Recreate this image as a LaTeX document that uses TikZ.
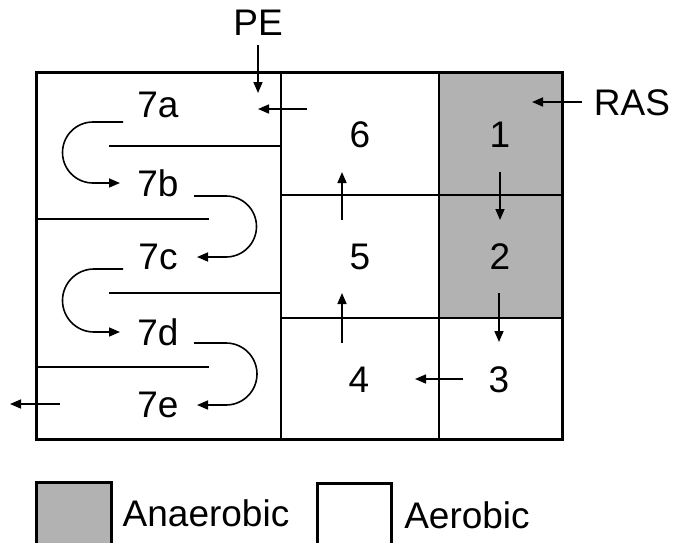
\documentclass[tikz,border=0pt]{standalone}
\usepackage{fontspec}
\setmainfont{Liberation Sans}
\usetikzlibrary{arrows.meta}
\begin{document}
\begin{tikzpicture}[x=1pt,y=-1pt,
  lbl/.style={font=\fontsize{37}{42}\selectfont, inner sep=0pt, anchor=center},
  wall/.style={line width=2pt},
  outer/.style={line width=3pt},
  flow/.style={line width=1.6pt, -{Triangle[length=11pt,width=9pt]}},
  anaer/.style={fill=black!30}]
\useasboundingbox (0,0) rectangle (674,542);
% shaded cells
\fill[anaer] (439,72) rectangle (562,318);
% inner walls
\draw[wall] (281,72) -- (281,439);
\draw[wall] (439,72) -- (439,439);
\draw[wall] (281,195) -- (562,195);
\draw[wall] (281,318) -- (562,318);
% baffles
\draw[wall] (109,146) -- (281,146);
\draw[wall] (36,219) -- (209,219);
\draw[wall] (109,293) -- (281,293);
\draw[wall] (36,367) -- (209,367);
% outer box
\draw[outer] (36,72) rectangle (562,439);
% labels
\node[lbl] (l7a) at (158,105) {7a};
\node[lbl] (l7b) at (158,183) {7b};
\node[lbl] (l7c) at (158,257) {7c};
\node[lbl] (l7d) at (158,332) {7d};
\node[lbl] (l7e) at (158,405) {7e};
\node[lbl] (l6) at (360,135) {6};
\node[lbl] (l5) at (360,257) {5};
\node[lbl] (l4) at (359,380) {4};
\node[lbl] (l1) at (500,135) {1};
\node[lbl] (l2) at (500,257) {2};
\node[lbl] (l3) at (499,380) {3};
\node[lbl] (pe) at (258,23) {PE};
\node[lbl] (ras) at (632,103) {RAS};
% arrow end points
\coordinate (peS) at (258,45);  \coordinate (peE) at (258,93);
\coordinate (a6S) at (307,109); \coordinate (a6E) at (258,109);
\coordinate (rasS) at (582,102); \coordinate (rasE) at (532,102);
\coordinate (a12S) at (500,172); \coordinate (a12E) at (500,220);
\coordinate (a23S) at (499,293); \coordinate (a23E) at (499,342);
\coordinate (a34S) at (463,379); \coordinate (a34E) at (415,379);
\coordinate (a45S) at (342,343); \coordinate (a45E) at (342,293);
\coordinate (a56S) at (342,220); \coordinate (a56E) at (342,172);
\coordinate (exS) at (60,404);  \coordinate (exE) at (10,404);
\draw[flow] (peS) -- (peE);
\draw[flow] (a6S) -- (a6E);
\draw[flow] (rasS) -- (rasE);
\draw[flow] (a12S) -- (a12E);
\draw[flow] (a23S) -- (a23E);
\draw[flow] (a34S) -- (a34E);
\draw[flow] (a45S) -- (a45E);
\draw[flow] (a56S) -- (a56E);
\draw[flow] (exS) -- (exE);
% U-turn curves
\draw[flow] (123,122) -- (93,122) arc[start angle=270,end angle=90,radius=30.5] -- (120,183);
\draw[flow] (194,196) -- (226,196) arc[start angle=-90,end angle=90,radius=30.5] -- (197,257);
\draw[flow] (123,269) -- (94,269) arc[start angle=270,end angle=90,radius=31.5] -- (120,332);
\draw[flow] (194,343) -- (226,343) arc[start angle=-90,end angle=90,radius=31] -- (197,405);
% legend
\draw[outer, anaer] (36,482) rectangle (111,548);
\node[lbl] (anl) at (206,513) {Anaerobic};
\draw[outer] (317,483) rectangle (391,548);
\node[lbl] (ael) at (467,515) {Aerobic};
\end{tikzpicture}
\end{document}
